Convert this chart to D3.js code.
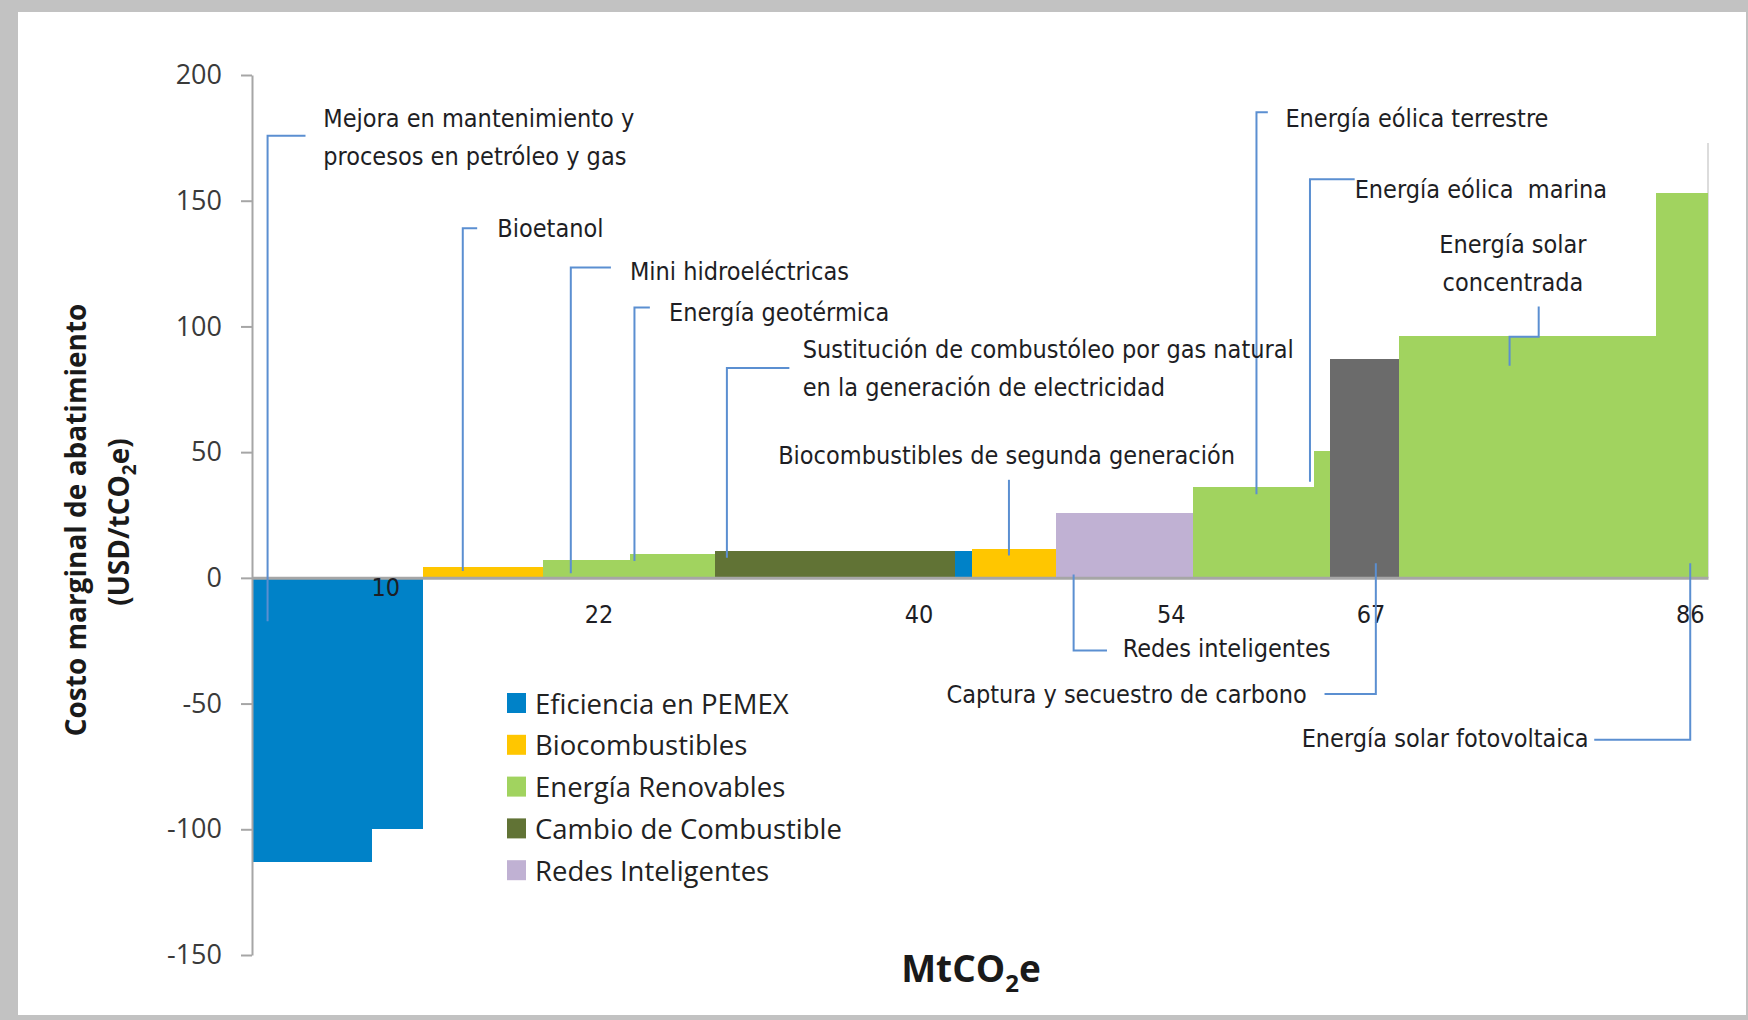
<!DOCTYPE html>
<html>
<head>
<meta charset="utf-8">
<script src="https://cdn.jsdelivr.net/npm/d3@7"></script>
<style>
  body { margin: 0; background: #fff; }
  .ann { font-family: "DejaVu Sans Condensed", "DejaVu Sans", sans-serif; font-stretch: condensed; font-size: 25px; fill: #1e1e24; white-space: pre; }
  .lbl { font-family: "Open Sans", sans-serif; }
</style>
</head>
<body>
<div class="svg-container"></div>
<script>
// groups and colours
var groups = ["PEMEX", "Bio", "Renovables", "Cambio", "Redes", "CCS"];
var groupColors = ["#0082c8", "#ffc600", "#a1d35f", "#617335", "#c0b1d3", "#6b6b6b"];
var legendGroups = ["PEMEX", "Bio", "Renovables", "Cambio", "Redes"];
var legendLabels = ["Eficiencia en PEMEX", "Biocombustibles", "Energía Renovables", "Cambio de Combustible", "Redes Inteligentes"];

// abatement measures (MtCO2e widths, USD/tCO2e costs)
var measures = ["Mejora en mantenimiento (a)", "Mejora en mantenimiento (b)", "Bioetanol", "Mini hidroeléctricas",
  "Energía geotérmica", "Sustitución de combustóleo", "Eficiencia PEMEX", "Biocombustibles 2a gen.",
  "Redes inteligentes", "Energía eólica terrestre", "Energía eólica marina", "Captura y secuestro de carbono",
  "Energía solar concentrada", "Energía solar fotovoltaica"];
var measureGroup = ["PEMEX", "PEMEX", "Bio", "Renovables", "Renovables", "Cambio", "PEMEX", "Bio",
  "Redes", "Renovables", "Renovables", "CCS", "Renovables", "Renovables"];
var widths = [7.1, 3.0, 7.1, 5.1, 5.05, 14.15, 1.0, 5.0, 8.1, 7.1, 1.0, 4.05, 15.15, 3.1];
var costs = [-113, -100, 4.4, 7, 9.6, 10.6, 10.6, 11.5, 25.7, 36, 50.5, 87, 96.2, 153];

// axes
var yTicks = [-150, -100, -50, 0, 50, 100, 150, 200];
var xTickLabels = ["10", "22", "40", "54", "67", "86"];
var xTickLabelX = [7.9, 20.5, 39.4, 54.3, 66.1, 84.95];
var xTickLabelY = [-4, -14.7, -14.7, -14.7, -14.7, -14.7];

// annotations (data units)
var annLines = [
  ["Mejora en mantenimiento y", "procesos en petróleo y gas"],
  ["Bioetanol"],
  ["Mini hidroeléctricas"],
  ["Energía geotérmica"],
  ["Sustitución de combustóleo por gas natural", "en la generación de electricidad"],
  ["Biocombustibles de segunda generación"],
  ["Redes inteligentes"],
  ["Captura y secuestro de carbono"],
  ["Energía solar fotovoltaica"],
  ["Energía eólica terrestre"],
  ["Energía eólica  marina"],
  ["Energía solar", "concentrada"]
];
var annX = [4.21, 14.49, 22.32, 24.63, 32.53, 31.08, 51.43, 62.3, 78.95, 61.04, 65.13, 74.48];
var annY = [183, 139, 122, 105.7, 91, 48.8, -28, -46.2, -63.5, 183, 154.5, 132.8];
var annAnchor = ["start", "start", "start", "start", "start", "start", "start", "end", "end", "start", "start", "middle"];
var annLeaders = [
  [[0.92, -17.3], [0.92, 175.8], [3.16, 175.8]],
  [[12.45, 2.7], [12.45, 139], [13.3, 139]],
  [[18.83, 1.8], [18.83, 123.4], [21.2, 123.4]],
  [[22.59, 6.7], [22.59, 107.5], [23.5, 107.5]],
  [[28.05, 8], [28.05, 83.5], [31.74, 83.5]],
  [[44.71, 8.9], [44.71, 39]],
  [[48.53, 1.3], [48.53, -28.9], [50.5, -28.9]],
  [[66.38, 5.8], [66.38, -46.2], [63.35, -46.2]],
  [[84.95, 5.8], [84.95, -64.4], [79.28, -64.4]],
  [[59.33, 33.3], [59.33, 185.2], [60, 185.2]],
  [[62.49, 38.2], [62.49, 158.5], [65.13, 158.5]],
  [[76.0, 107.9], [76.0, 95.9], [74.28, 95.9], [74.28, 84.4]]
];

var width = 1748, height = 1020;

var svg = d3.select('.svg-container').append('svg')
  .attr('width', width)
  .attr('height', height);

// page frame
svg.append('rect').attr('width', width).attr('height', height).attr('fill', '#c2c2c2');
svg.append('rect').attr('x', 18).attr('y', 12).attr('width', 1728).attr('height', 1003).attr('fill', '#fff');

var x = d3.scaleLinear().domain([0, 86]).range([252, 1708]);
var y = d3.scaleLinear().domain([-150, 200]).range([955, 75]);
var color = d3.scaleOrdinal().domain(groups).range(groupColors);

var ends = d3.cumsum(widths);
var bars = measures.map(function(m, i) {
  return { name: m, group: measureGroup[i], x0: ends[i] - widths[i], x1: ends[i], v: costs[i] };
});

// faint plot border at the right
svg.append('line')
  .attr('x1', x(86)).attr('x2', x(86))
  .attr('y1', 143).attr('y2', y(0))
  .attr('stroke', '#dcdcdc').attr('stroke-width', 2);

svg.selectAll('rect.bar')
  .data(bars)
  .enter().append('rect')
  .attr('class', 'bar')
  .attr('x', function(d) { return x(d.x0); })
  .attr('width', function(d) { return x(d.x1) - x(d.x0); })
  .attr('y', function(d) { return y(Math.max(0, d.v)); })
  .attr('height', function(d) { return Math.abs(y(d.v) - y(0)); })
  .attr('fill', function(d) { return color(d.group); })
  .attr('shape-rendering', 'crispEdges');

// y axis
var yAxis = svg.append('g')
  .attr('transform', 'translate(' + x(0) + ',0)')
  .call(d3.axisLeft(y).tickValues(yTicks).tickSize(11).tickSizeOuter(0).tickPadding(19)
    .tickFormat(function(d) { return String(d); }));
yAxis.select('.domain').attr('stroke', '#a6a6a6').attr('stroke-width', 2);
yAxis.selectAll('.tick line').attr('stroke', '#a6a6a6').attr('stroke-width', 2);
yAxis.selectAll('.tick text')
  .attr('class', 'lbl')
  .attr('font-size', 27)
  .attr('fill', '#3a3a3a');

// x axis (zero line)
var xAxis = svg.append('g')
  .attr('transform', 'translate(0,' + y(0) + ')')
  .call(d3.axisBottom(x).tickValues([]).tickSizeOuter(0));
xAxis.select('.domain').attr('stroke', '#a6a6a6').attr('stroke-width', 3);

svg.selectAll('text.xtick')
  .data(xTickLabels)
  .enter().append('text')
  .attr('class', 'ann xtick')
  .attr('x', function(d, i) { return x(xTickLabelX[i]); })
  .attr('y', function(d, i) { return y(xTickLabelY[i]); })
  .attr('text-anchor', 'middle')
  .attr('dominant-baseline', 'central')
  .attr('fill', '#2a2a3a')
  .text(function(d) { return d; });

// leader lines
var leader = d3.line()
  .x(function(p) { return x(p[0]); })
  .y(function(p) { return y(p[1]); });

svg.selectAll('path.leader')
  .data(annLeaders)
  .enter().append('path')
  .attr('class', 'leader')
  .attr('d', leader)
  .attr('fill', 'none')
  .attr('stroke', '#5b8fd1')
  .attr('stroke-width', 2);

// annotation texts
var ann = svg.selectAll('text.note')
  .data(annLines)
  .enter().append('text')
  .attr('class', 'ann note')
  .attr('text-anchor', function(d, i) { return annAnchor[i]; })
  .attr('dominant-baseline', 'central');

ann.each(function(lines, i) {
  var t = d3.select(this);
  lines.forEach(function(line, j) {
    t.append('tspan')
      .attr('x', x(annX[i]))
      .attr('y', y(annY[i]) + j * 38)
      .text(line);
  });
});

// legend
var legend = svg.selectAll('g.legend')
  .data(legendGroups)
  .enter().append('g')
  .attr('class', 'legend')
  .attr('transform', function(d, i) { return 'translate(507,' + (703 + i * 41.8) + ')'; });

legend.append('rect')
  .attr('x', 0).attr('y', -10)
  .attr('width', 19).attr('height', 20)
  .attr('fill', function(d) { return color(d); });

legend.append('text')
  .attr('class', 'lbl')
  .attr('x', 28)
  .attr('dominant-baseline', 'central')
  .attr('font-size', 27.5)
  .attr('fill', '#222')
  .text(function(d, i) { return legendLabels[i]; });

// axis titles
svg.append('text')
  .attr('class', 'lbl')
  .attr('transform', 'translate(86,520) rotate(-90)')
  .attr('text-anchor', 'middle')
  .attr('font-size', 28)
  .attr('font-weight', 'bold')
  .attr('fill', '#1a1a1a')
  .text('Costo marginal de abatimiento');

var yt2 = svg.append('text')
  .attr('class', 'lbl')
  .attr('transform', 'translate(129,522) rotate(-90)')
  .attr('text-anchor', 'middle')
  .attr('font-size', 28)
  .attr('font-weight', 'bold')
  .attr('fill', '#1a1a1a');
yt2.append('tspan').text('(USD/tCO');
yt2.append('tspan').attr('font-size', 19).attr('dy', 7).text('2');
yt2.append('tspan').attr('dy', -7).text('e)');

var xt = svg.append('text')
  .attr('class', 'lbl')
  .attr('x', 971)
  .attr('y', 982)
  .attr('text-anchor', 'middle')
  .attr('font-size', 37)
  .attr('font-weight', 'bold')
  .attr('fill', '#1a1a1a');
xt.append('tspan').text('MtCO');
xt.append('tspan').attr('font-size', 24).attr('dy', 10).text('2');
xt.append('tspan').attr('dy', -10).text('e');
</script>
</body>
</html>
